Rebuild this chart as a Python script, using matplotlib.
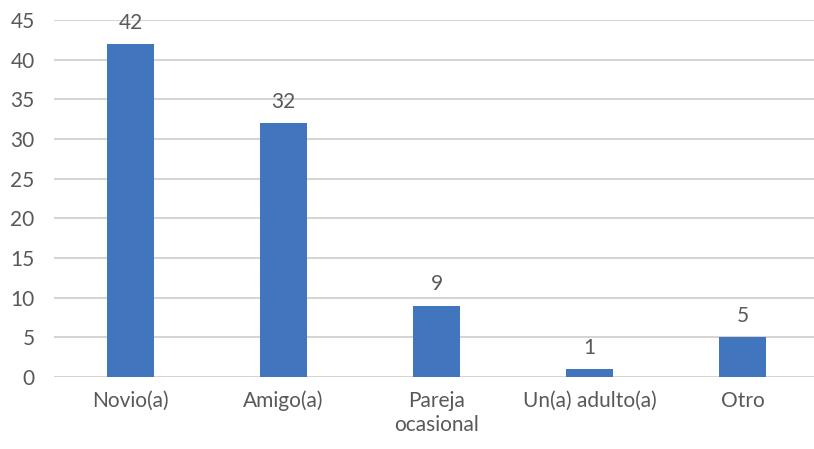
from matplotlib import pyplot as plt

categories = ["Novio(a)", "Amigo(a)", "Pareja\nocasional", "Un(a) adulto(a)", "Otro"]
values = [42, 32, 9, 1, 5]
yticks = [0, 5, 10, 15, 20, 25, 30, 35, 40, 45]

plt.rcParams['font.family'] = ['Lato', 'DejaVu Sans']
text_color = "#595959"

fig = plt.figure(figsize=(8.14, 4.49), dpi=100)
ax = fig.add_axes([54 / 814, 1 - 377 / 449, 1 - 54 / 814 + 0.006, (377 - 20) / 449])

x = range(len(categories))
bars = ax.bar(x, values, width=0.31, color="#4175BD", zorder=3)
for b, v in zip(bars, values):
    ax.text(b.get_x() + b.get_width() / 2, v + 1.4, str(v), ha="center", va="bottom",
            fontsize=15, color=text_color)

ax.set_xlim(-0.5, 4.5)
ax.set_ylim(0, 45)
ax.set_yticks(yticks)
ax.set_xticks(list(x))
ax.set_xticklabels(categories, fontsize=15, color=text_color, linespacing=1.25)
ax.tick_params(axis="y", labelsize=15, labelcolor=text_color, length=0, pad=14)
ax.tick_params(axis="x", length=0, pad=10)
ax.yaxis.grid(True, color="#D9D4D1", linewidth=1.5, zorder=0)
for s in ax.spines.values():
    s.set_visible(False)
ax.set_clip_on(False)

plt.savefig("out.png", dpi=100)
